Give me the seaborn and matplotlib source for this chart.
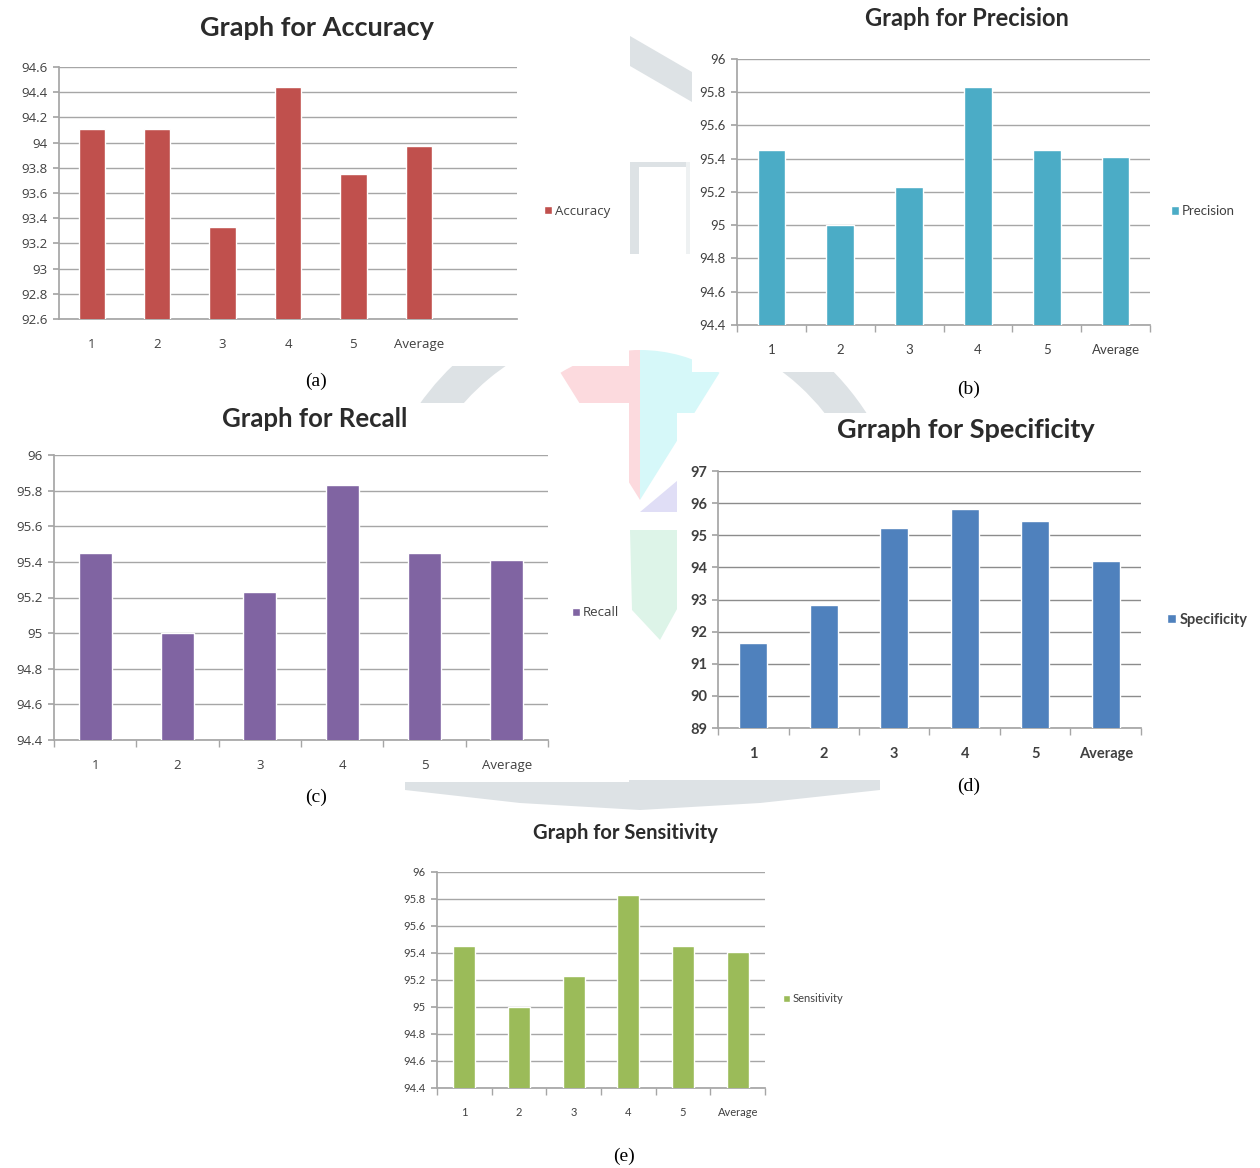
import matplotlib
matplotlib.use("Agg")
import matplotlib.pyplot as plt
from matplotlib.patches import Patch, Wedge, Polygon, Rectangle
import seaborn as sns
import pandas as pd

sns.set_theme(style="white")
plt.rcParams["font.family"] = ["Lato", "DejaVu Sans"]

W, H = 1260, 1168

folds = ["1", "2", "3", "4", "5", "Average"]
accuracy = [94.11, 94.11, 93.33, 94.44, 93.75, 93.97]
precision = [95.45, 95.00, 95.23, 95.83, 95.45, 95.41]
recall = [95.45, 95.00, 95.23, 95.83, 95.45, 95.41]
specificity = [91.65, 92.84, 95.23, 95.82, 95.45, 94.21]
sensitivity = [95.45, 95.00, 95.23, 95.83, 95.45, 95.41]

fig = plt.figure(figsize=(W / 100, H / 100), dpi=100)
fig.patch.set_facecolor("white")


def px_rect(left, top, right, bottom):
    return [left / W, 1 - bottom / H, (right - left) / W, (bottom - top) / H]


# faint background emblem, mostly hidden behind the white chart cards
bg = fig.add_axes([0, 0, 1, 1], zorder=-10)
bg.set_xlim(0, W)
bg.set_ylim(H, 0)
bg.axis("off")
grey = "#dde2e5"
bg.add_patch(Wedge((640, 500), 150, 238, 270, width=150, color="#fcdade", lw=0))
bg.add_patch(Wedge((640, 500), 150, 270, 302, width=150, color="#d6f8f9", lw=0))
bg.add_patch(Polygon([[640, 512], [690, 470], [690, 512]], color="#e0def6", lw=0))
bg.add_patch(Polygon([[630, 530], [690, 530], [682, 600], [660, 640], [632, 610]],
                     color="#ddf4e8", lw=0))
bg.add_patch(Polygon([[405, 780], [880, 780], [880, 790], [760, 803], [640, 810],
                      [520, 803], [405, 790]], color=grey, lw=0))
bg.add_patch(Wedge((640, 560), 270, 215, 245, width=34, color=grey, lw=0))
bg.add_patch(Wedge((640, 560), 270, 295, 330, width=34, color=grey, lw=0))
bg.add_patch(Polygon([[630, 36], [692, 72], [692, 102], [630, 66]], color=grey, lw=0))
bg.add_patch(Rectangle((630, 162), 9, 92, color=grey, lw=0))
bg.add_patch(Rectangle((630, 162), 60, 5, color=grey, lw=0))
bg.add_patch(Rectangle((686, 162), 4, 92, color="#eef1f2", lw=0))

# white cards behind each chart
for (l, t, r, b) in [(0, 0, 629, 366), (692, 0, 1260, 372), (0, 403, 629, 782),
                     (677, 413, 1260, 770), (0, 812, 1260, 1168)]:
    bg.add_patch(Rectangle((l, t), r - l, b - t, color="white", lw=0, zorder=5))


def draw_panel(rect, values, color, label, title, title_xy, ylim, yticks, ytick_fmt,
               legend_xy, caption, caption_xy, nslots=6, xticks_marks=True,
               tick_size=8.5, tick_family=None, title_size=15, tick_weight="normal",
               title_family=None, grid_color="#a6a6a6", grid_lw=1.0):
    tfam = tick_family or ["Lato", "DejaVu Sans"]
    ax = fig.add_axes(px_rect(*rect))
    df = pd.DataFrame({"fold": folds, "value": values})
    sns.barplot(data=df, x="fold", y="value", color=color, width=0.4,
                saturation=1, ax=ax, zorder=3)
    ax.set_xlim(-0.5, nslots - 0.5)
    ax.set_ylim(*ylim)
    ax.set_yticks(yticks)
    ax.set_yticklabels([ytick_fmt(t) for t in yticks])
    ax.set_xlabel("")
    ax.set_ylabel("")
    ax.set_facecolor("none")
    ax.grid(axis="y", color=grid_color, lw=grid_lw, zorder=0)
    ax.grid(axis="x", visible=False)
    for side in ["top", "right"]:
        ax.spines[side].set_visible(False)
    ax.spines["left"].set_color("#a6a6a6")
    ax.spines["bottom"].set_color("#a6a6a6")
    ax.tick_params(axis="y", length=4, color="#a6a6a6", labelsize=tick_size,
                   labelcolor="#404040", left=True, pad=4)
    ax.tick_params(axis="x", length=0, labelsize=tick_size, labelcolor="#404040", pad=14)
    for t in ax.get_yticklabels() + ax.get_xticklabels():
        t.set_fontweight(tick_weight)
        t.set_family(tfam)
    if xticks_marks:
        ax.set_xticks([i - 0.5 for i in range(nslots + 1)], minor=True)
        ax.tick_params(axis="x", which="minor", length=5, color="#a6a6a6", bottom=True)
    fig.text(title_xy[0] / W, 1 - title_xy[1] / H, title, ha="center", va="center",
             fontsize=title_size, fontweight="bold", color="#2b2b2b",
             family=title_family or ["Lato", "DejaVu Sans"])
    leg = fig.legend(handles=[Patch(facecolor=color)], labels=[label],
                     loc="center left",
                     bbox_to_anchor=(legend_xy[0] / W, 1 - legend_xy[1] / H),
                     frameon=False, handlelength=0.6, handleheight=0.6,
                     handletextpad=0.25, borderaxespad=0, borderpad=0,
                     prop={"size": tick_size, "weight": tick_weight, "family": tfam})
    for t in leg.get_texts():
        t.set_color("#404040")
    fig.text(caption_xy[0] / W, 1 - caption_xy[1] / H, caption, ha="center", va="center",
             fontsize=14, family="Liberation Serif", color="black")
    return ax


ticks_a = [92.6 + 0.2 * i for i in range(11)]
ticks_b = [94.4 + 0.2 * i for i in range(9)]
ticks_d = list(range(89, 98))
dec = lambda t: f"{round(t, 1):g}"
open_sans = ["Open Sans", "DejaVu Sans"]

draw_panel((59, 67, 517, 319), accuracy, "#C0504D", "Accuracy", "Graph for Accuracy",
           (317, 28), (92.6, 94.6), ticks_a, dec,
           (544, 211), "(a)", (316, 381), nslots=7, xticks_marks=False,
           tick_size=9.5, tick_family=open_sans, title_size=19.5)

draw_panel((737, 59, 1150, 325), precision, "#4BACC6", "Precision", "Graph for Precision",
           (967, 18), (94.4, 96.0), ticks_b, dec,
           (1171, 211), "(b)", (969, 389), tick_size=9.5, title_size=17)

draw_panel((54, 455, 548, 740), recall, "#8064A2", "Recall", "Graph for Recall",
           (315, 419), (94.4, 96.0), ticks_b, dec,
           (572, 613), "(c)", (316, 797), tick_size=9.5, tick_family=open_sans,
           title_size=18.5)

draw_panel((718, 471, 1141, 728), specificity, "#4F81BD", "Specificity",
           "Grraph for Specificity", (966, 430), (89, 97), ticks_d, lambda t: f"{int(t)}",
           (1167, 620), "(d)", (969, 786), tick_size=10.5, title_size=19.5,
           tick_weight="bold", grid_color="#8c8c8c")

draw_panel((437, 872, 765, 1088), sensitivity, "#9BBB59", "Sensitivity",
           "Graph for Sensitivity", (625, 833), (94.4, 96.0), ticks_b,
           dec, (783, 999), "(e)", (624, 1156),
           tick_size=8, title_size=14.5)

fig.savefig("out.png", dpi=100, facecolor="white")
